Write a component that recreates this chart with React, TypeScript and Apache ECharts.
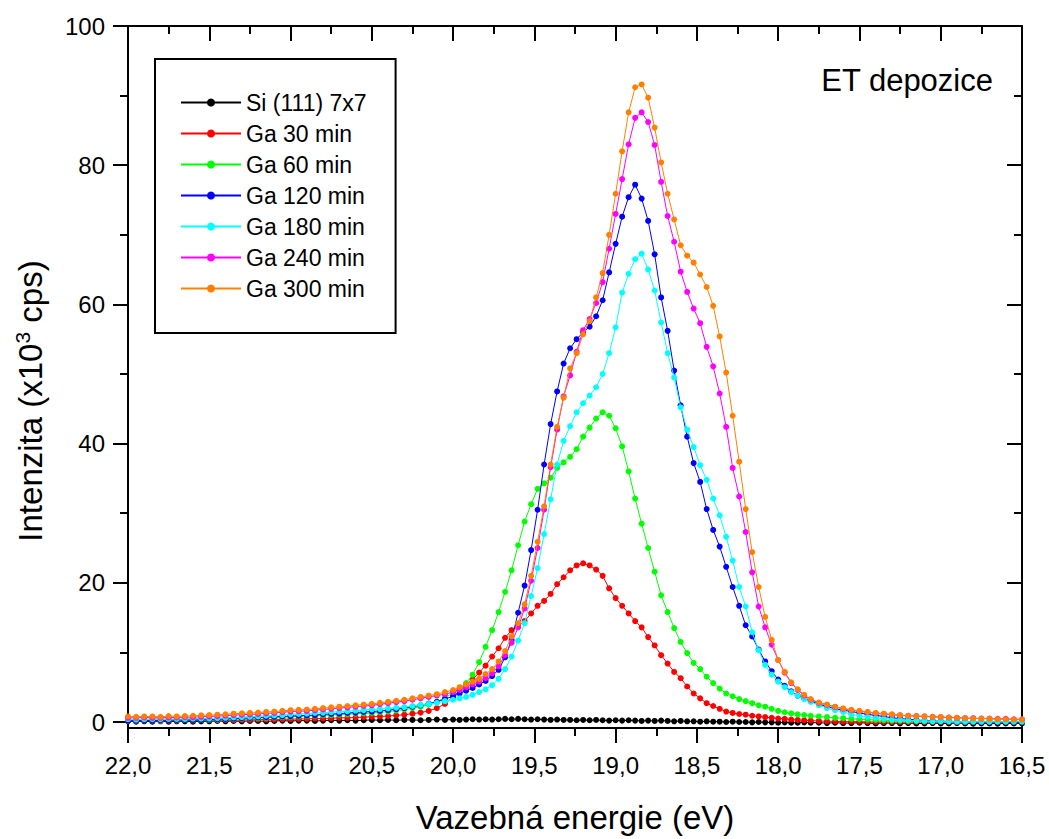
import React, { useEffect, useRef } from "react";
import * as echarts from "echarts";

// Binding energy grid (eV)
const ENERGY = [
  22.0, 21.95, 21.9, 21.85, 21.8, 21.75, 21.7, 21.65, 21.6, 21.55,
  21.5, 21.45, 21.4, 21.35, 21.3, 21.25, 21.2, 21.15, 21.1, 21.05,
  21.0, 20.95, 20.9, 20.85, 20.8, 20.75, 20.7, 20.65, 20.6, 20.55,
  20.5, 20.45, 20.4, 20.35, 20.3, 20.25, 20.2, 20.15, 20.1, 20.05,
  20.0, 19.96, 19.92, 19.88, 19.84, 19.8, 19.76, 19.72, 19.68, 19.64,
  19.6, 19.56, 19.52, 19.48, 19.44, 19.4, 19.36, 19.32, 19.28, 19.24,
  19.2, 19.16, 19.12, 19.08, 19.04, 19.0, 18.96, 18.92, 18.88, 18.84,
  18.8, 18.76, 18.72, 18.68, 18.64, 18.6, 18.56, 18.52, 18.48, 18.44,
  18.4, 18.36, 18.32, 18.28, 18.24, 18.2, 18.16, 18.12, 18.08, 18.04,
  18.0, 17.96, 17.92, 17.88, 17.84, 17.8,
  17.75, 17.7, 17.65, 17.6, 17.55, 17.5, 17.45, 17.4, 17.35, 17.3,
  17.25, 17.2, 17.15, 17.1, 17.05, 17.0, 16.95, 16.9, 16.85, 16.8,
  16.75, 16.7, 16.65, 16.6, 16.55, 16.5,
];

const SI_111 = [
  0.1, 0.05, 0.1, 0.05, 0.1, 0.05, 0.1, 0.1, 0.05, 0.1,
  0.1, 0.15, 0.1, 0.15, 0.1, 0.15, 0.15, 0.1, 0.15, 0.2,
  0.15, 0.2, 0.2, 0.15, 0.2, 0.25, 0.2, 0.25, 0.2, 0.25,
  0.3, 0.25, 0.3, 0.25, 0.3, 0.3, 0.25, 0.3, 0.35, 0.3,
  0.35, 0.3, 0.35, 0.4, 0.35, 0.4, 0.35, 0.4, 0.45, 0.4,
  0.45, 0.4, 0.35, 0.4, 0.35, 0.3, 0.35, 0.3, 0.3, 0.25,
  0.3, 0.25, 0.3, 0.25, 0.2, 0.25, 0.2, 0.25, 0.2, 0.15,
  0.2, 0.15, 0.2, 0.15, 0.1, 0.15, 0.1, 0.1, 0.05, 0.1,
  0.05, 0.05, 0.0, 0.05, 0.0, 0.0, -0.05, 0.0, -0.05, -0.05,
  -0.1, -0.05, -0.1, -0.1, -0.05, -0.1,
  -0.1, -0.15, -0.1, -0.15, -0.15, -0.1, -0.15, -0.2, -0.15, -0.15,
  -0.2, -0.15, -0.2, -0.2, -0.15, -0.2, -0.2, -0.15, -0.2, -0.25,
  -0.2, -0.2, -0.25, -0.2, -0.2, -0.2,
];

const GA_30 = [
  0.2, 0.15, 0.2, 0.2, 0.15, 0.2, 0.2, 0.25, 0.2, 0.25,
  0.25, 0.25, 0.3, 0.25, 0.3, 0.3, 0.35, 0.35, 0.35, 0.4,
  0.4, 0.45, 0.45, 0.5, 0.5, 0.55, 0.6, 0.6, 0.65, 0.7,
  0.75, 0.8, 0.85, 0.95, 1.05, 1.2, 1.35, 1.6, 2.0, 2.6,
  3.6, 4.5, 5.4, 6.1, 7.1, 8.1, 9.4, 10.6, 12.1, 13.2,
  13.7, 14.5, 15.6, 16.7, 17.4, 18.4, 19.8, 20.8, 21.8, 22.5,
  22.8, 22.5, 21.9, 21.0, 19.2, 17.8, 16.7, 15.6, 14.5, 13.6,
  12.2, 11.0, 9.6, 8.4, 7.2, 6.3, 5.1, 4.1, 3.4, 2.7,
  2.3, 1.9, 1.5, 1.3, 1.15, 1.05, 0.9, 0.8, 0.7, 0.6,
  0.5, 0.45, 0.35, 0.3, 0.25, 0.2,
  0.15, 0.1, 0.1, 0.05, 0.05, 0.05, 0.0, 0.0, 0.0, 0.0,
  0.0, 0.0, 0.0, 0.0, 0.0, 0.0, 0.0, 0.0, 0.0, 0.0,
  0.0, 0.0, 0.0, 0.0, 0.0, 0.0,
];

const GA_60 = [
  0.2, 0.2, 0.25, 0.2, 0.2, 0.25, 0.25, 0.3, 0.3, 0.3,
  0.3, 0.35, 0.4, 0.45, 0.5, 0.55, 0.55, 0.6, 0.65, 0.7,
  0.75, 0.8, 0.85, 0.9, 0.95, 1.0, 1.05, 1.1, 1.2, 1.25,
  1.3, 1.4, 1.5, 1.65, 1.8, 2.0, 2.2, 2.5, 2.9, 3.5,
  4.2, 4.8, 5.6, 6.8, 8.6, 10.8, 13.2, 15.8, 18.7, 21.8,
  25.4, 28.8, 31.3, 33.5, 34.3, 35.1, 36.5, 37.3, 38.1, 39.2,
  41.0, 42.3, 43.6, 44.5, 44.0, 42.2, 39.6, 36.0, 32.1, 28.5,
  25.0, 21.6, 18.2, 15.8, 13.5, 11.5, 9.9, 8.5, 7.6, 6.5,
  5.6, 4.8, 4.1, 3.7, 3.3, 3.0, 2.7, 2.4, 2.2, 1.9,
  1.6, 1.4, 1.25, 1.1, 1.0, 0.9,
  0.8, 0.7, 0.6, 0.55, 0.45, 0.4, 0.35, 0.3, 0.25, 0.2,
  0.2, 0.15, 0.15, 0.1, 0.1, 0.1, 0.1, 0.05, 0.05, 0.05,
  0.05, 0.05, 0.05, 0.05, 0.05, 0.05,
];

const GA_120 = [
  0.2, 0.2, 0.25, 0.2, 0.25, 0.25, 0.3, 0.3, 0.3, 0.3,
  0.35, 0.4, 0.45, 0.5, 0.55, 0.6, 0.65, 0.7, 0.75, 0.8,
  0.85, 0.9, 0.95, 1.0, 1.1, 1.15, 1.2, 1.3, 1.35, 1.45,
  1.5, 1.6, 1.7, 1.85, 2.0, 2.2, 2.4, 2.65, 2.9, 3.3,
  3.7, 4.1, 4.5, 4.9, 5.4, 5.9, 6.6, 7.5, 9.3, 11.8,
  15.7, 19.6, 24.7, 30.5, 37.0, 42.8, 47.5, 51.5, 53.7, 55.0,
  56.0, 56.8, 58.3, 60.6, 64.6, 68.7, 72.6, 75.4, 77.2, 75.2,
  72.0, 67.2, 61.0, 56.2, 50.5, 45.5, 41.0, 37.2, 34.5, 30.6,
  27.6, 25.2, 22.3, 19.4, 16.7, 13.9, 12.3, 10.4, 8.7, 7.3,
  6.1, 5.2, 4.4, 3.8, 3.4, 3.0,
  2.6, 2.2, 1.9, 1.7, 1.5, 1.3, 1.1, 0.95, 0.8, 0.6,
  0.5, 0.4, 0.3, 0.2, 0.15, 0.1, 0.1, 0.05, 0.05, 0.0,
  0.0, 0.0, 0.0, 0.0, 0.0, 0.0,
];

const GA_180 = [
  0.4, 0.35, 0.4, 0.4, 0.4, 0.45, 0.45, 0.45, 0.5, 0.5,
  0.5, 0.55, 0.6, 0.65, 0.7, 0.75, 0.8, 0.9, 0.95, 1.0,
  1.1, 1.15, 1.2, 1.3, 1.35, 1.4, 1.5, 1.55, 1.65, 1.7,
  1.8, 1.85, 1.95, 2.05, 2.15, 2.3, 2.45, 2.6, 2.75, 3.0,
  3.2, 3.4, 3.6, 3.9, 4.3, 4.7, 5.3, 6.2, 7.6, 9.4,
  11.7, 14.2, 18.1, 22.1, 27.0, 32.0, 37.0, 40.4, 42.5, 44.5,
  45.8, 46.9, 48.1, 50.0, 53.0, 56.7, 61.7, 64.4, 66.5, 67.3,
  65.0, 62.0, 57.4, 53.0, 49.5, 45.2, 42.0, 39.5, 36.9, 34.8,
  32.1, 29.7, 26.6, 23.2, 19.4, 16.6, 12.9, 10.3, 8.2, 6.8,
  5.8, 5.0, 4.3, 3.8, 3.3, 2.9,
  2.4, 2.0, 1.7, 1.45, 1.1, 0.9, 0.75, 0.6, 0.5, 0.35,
  0.3, 0.25, 0.2, 0.15, 0.1, 0.1, 0.1, 0.05, 0.05, 0.05,
  0.05, 0.05, 0.05, 0.05, 0.05, 0.05,
];

const GA_240 = [
  0.6, 0.6, 0.65, 0.6, 0.6, 0.65, 0.65, 0.7, 0.7, 0.75,
  0.8, 0.85, 0.9, 1.0, 1.05, 1.1, 1.15, 1.25, 1.3, 1.4,
  1.5, 1.55, 1.6, 1.7, 1.8, 1.9, 2.0, 2.1, 2.2, 2.3,
  2.4, 2.55, 2.7, 2.85, 3.0, 3.2, 3.4, 3.6, 3.8, 4.0,
  4.3, 4.6, 5.0, 5.4, 5.8, 6.3, 7.0, 8.0, 9.6, 11.4,
  13.6, 16.3, 20.3, 25.0, 30.5, 36.6, 42.0, 46.8, 49.8, 53.2,
  56.3, 57.9, 60.2, 63.2, 68.0, 73.0, 78.0, 83.0, 86.8, 87.6,
  86.2, 82.9, 77.6, 72.7, 69.0, 64.7, 61.8, 59.4, 57.3, 53.9,
  51.1, 47.2, 42.4, 36.5, 32.4, 27.3, 21.5, 16.6, 13.6, 11.1,
  8.9, 7.1, 5.6, 4.6, 3.8, 3.2,
  2.75, 2.45, 2.15, 1.9, 1.7, 1.55, 1.4, 1.25, 1.15, 1.05,
  0.95, 0.9, 0.85, 0.8, 0.75, 0.7, 0.65, 0.6, 0.55, 0.55,
  0.5, 0.5, 0.45, 0.45, 0.4, 0.4,
];

const GA_300 = [
  0.8, 0.75, 0.8, 0.8, 0.75, 0.85, 0.8, 0.85, 0.9, 0.95,
  1.0, 1.05, 1.1, 1.2, 1.25, 1.3, 1.35, 1.45, 1.5, 1.6,
  1.7, 1.75, 1.8, 1.9, 2.0, 2.1, 2.2, 2.3, 2.4, 2.5,
  2.6, 2.75, 2.9, 3.05, 3.2, 3.4, 3.6, 3.8, 4.0, 4.3,
  4.6, 5.0, 5.4, 5.8, 6.2, 6.9, 7.6, 8.7, 10.2, 12.3,
  14.2, 16.9, 21.0, 25.9, 31.0, 37.0, 42.4, 46.6, 50.8, 53.0,
  55.7, 57.6, 61.0, 64.5, 70.0, 75.9, 82.0, 87.6, 91.2, 91.6,
  89.7, 85.4, 80.4, 75.9, 72.2, 68.5, 67.0, 66.0, 64.3, 62.5,
  59.8, 55.4, 50.2, 44.0, 37.4, 30.6, 24.4, 19.4, 15.1, 11.8,
  8.9, 7.2, 5.7, 4.7, 3.9, 3.3,
  2.8, 2.5, 2.2, 1.95, 1.75, 1.6, 1.45, 1.3, 1.2, 1.1,
  1.0, 0.9, 0.85, 0.8, 0.75, 0.7, 0.65, 0.6, 0.55, 0.5,
  0.5, 0.45, 0.4, 0.4, 0.35, 0.35,
];

const SERIES_NAMES = [
  "Si (111) 7x7",
  "Ga 30 min",
  "Ga 60 min",
  "Ga 120 min",
  "Ga 180 min",
  "Ga 240 min",
  "Ga 300 min",
];
const SERIES_VALUES = [SI_111, GA_30, GA_60, GA_120, GA_180, GA_240, GA_300];
const SERIES_COLORS = ["#000000", "#ff0000", "#00ff00", "#0000ff", "#00ffff", "#ff00ff", "#ff8000"];

const Y_MAJOR = [0, 20, 40, 60, 80, 100];
const Y_MINOR = [10, 30, 50, 70, 90];

const FONT = "'Liberation Sans', Arial, Helvetica, sans-serif";

export default function App() {
  const ref = useRef<HTMLDivElement>(null);

  useEffect(() => {
    document.body.style.margin = "0";
    if (!ref.current) return;
    const chart = echarts.init(ref.current, undefined, { renderer: "svg" });

    const axisLineStyle = { color: "#000", width: 2 };
    const yBase = { type: "value", min: -0.86, max: 100, splitLine: { show: false } };

    const xCommon = {
      type: "value",
      min: 16.5,
      max: 22,
      inverse: true,
      interval: 0.5,
      splitLine: { show: false },
      minorSplitLine: { show: false },
      axisLine: { show: true, onZero: false, lineStyle: axisLineStyle },
    };

    const option: any = {
      animation: false,
      backgroundColor: "#ffffff",
      grid: { left: 128, right: 27, top: 26, bottom: 111, containLabel: false },
      legend: {
        data: SERIES_NAMES,
        orient: "vertical",
        left: 155,
        top: 59,
        itemWidth: 60,
        itemHeight: 10,
        itemGap: 8,
        padding: [32, 29, 33, 25],
        borderColor: "#000",
        borderWidth: 2,
        selectedMode: false,
        textStyle: { fontSize: 23, color: "#000", fontFamily: FONT },
      },
      xAxis: [
        {
          ...xCommon,
          position: "bottom",
          axisTick: { show: true, inside: false, length: 15, lineStyle: axisLineStyle },
          minorTick: { show: true, splitNumber: 2, length: 8, lineStyle: axisLineStyle },
          axisLabel: {
            margin: 25,
            fontSize: 24,
            color: "#000",
            fontFamily: FONT,
            formatter: (v: number) => v.toFixed(1).replace(".", ","),
          },
          name: "Vazebná energie (eV)",
          nameLocation: "middle",
          nameGap: 73,
          nameTextStyle: { fontSize: 33, color: "#000", fontFamily: FONT },
        },
        {
          ...xCommon,
          position: "top",
          axisTick: { show: true, inside: true, length: 15, lineStyle: axisLineStyle },
          minorTick: { show: true, splitNumber: 2, length: 8, lineStyle: axisLineStyle },
          axisLabel: { show: false },
        },
      ],
      yAxis: [
        {
          ...yBase,
          position: "left",
          axisLine: { show: true, onZero: false, lineStyle: axisLineStyle },
          axisTick: { show: true, inside: false, length: 15, customValues: Y_MAJOR, lineStyle: axisLineStyle },
          axisLabel: {
            customValues: Y_MAJOR,
            margin: 23,
            fontSize: 24,
            color: "#000",
            fontFamily: FONT,
          },
        },
        {
          ...yBase,
          position: "left",
          axisLine: { show: false },
          axisTick: { show: true, inside: false, length: 8, customValues: Y_MINOR, lineStyle: axisLineStyle },
          axisLabel: { show: false },
        },
        {
          ...yBase,
          position: "right",
          axisLine: { show: true, onZero: false, lineStyle: axisLineStyle },
          axisTick: { show: true, inside: true, length: 15, customValues: Y_MAJOR, lineStyle: axisLineStyle },
          axisLabel: { show: false },
        },
        {
          ...yBase,
          position: "right",
          axisLine: { show: false },
          axisTick: { show: true, inside: true, length: 8, customValues: Y_MINOR, lineStyle: axisLineStyle },
          axisLabel: { show: false },
        },
      ],
      graphic: [
        {
          type: "text",
          x: 993,
          y: 80,
          style: {
            text: "ET depozice",
            font: `31px ${FONT}`,
            fill: "#000",
            align: "right",
            verticalAlign: "middle",
          },
        },
        {
          type: "text",
          x: 30,
          y: 401,
          rotation: Math.PI / 2,
          style: {
            text: "{a|Intenzita (x10}{s|3}{a| cps)}",
            fill: "#000",
            align: "center",
            verticalAlign: "middle",
            rich: {
              a: { fontSize: 33, fontFamily: FONT, fill: "#000", lineHeight: 36 },
              s: { fontSize: 21, fontFamily: FONT, fill: "#000", verticalAlign: "top", lineHeight: 22 },
            },
          },
        },
      ],
      series: SERIES_NAMES.map((name, k) => ({
        name,
        type: "line",
        xAxisIndex: 0,
        yAxisIndex: 0,
        data: ENERGY.map((e, i) => [e, SERIES_VALUES[k][i]]),
        symbol: "circle",
        symbolSize: 6,
        showSymbol: true,
        showAllSymbol: true,
        color: SERIES_COLORS[k],
        itemStyle: { color: SERIES_COLORS[k] },
        lineStyle: { color: SERIES_COLORS[k], width: 1 },
        emphasis: { disabled: true },
        z: 3 + k,
      })),
    };

    chart.setOption(option);
    return () => chart.dispose();
  }, []);

  return <div ref={ref} style={{ width: 1049, height: 839, overflow: "hidden" }} />;
}
